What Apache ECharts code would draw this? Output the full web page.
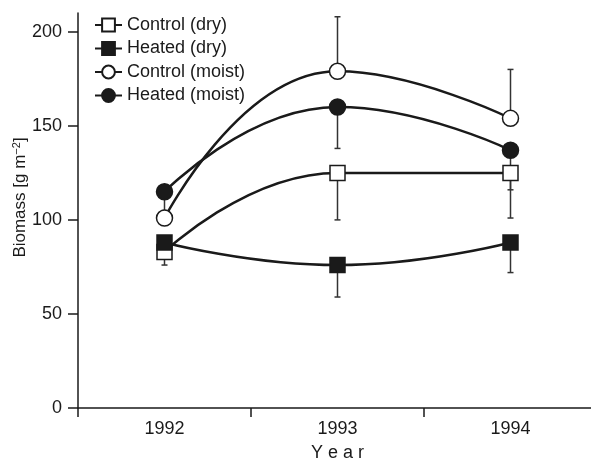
<!DOCTYPE html>
<html><head><meta charset="utf-8">
<script src="https://cdn.jsdelivr.net/npm/echarts@6/dist/echarts.min.js"></script>
<style>html,body{margin:0;padding:0;background:#fff}#c{width:591px;height:463px}</style>
</head><body><div id="c"></div>
<script>
const years = ['1992', '1993', '1994'];
const yTicks = [0, 50, 100, 150, 200];

const controlDry = [83, 125, 125];
const controlDryLow = [76, 100, 101];
const controlDryHigh = [null, null, null];

const heatedDry = [88, 76, 88];
const heatedDryLow = [null, 59, 72];
const heatedDryHigh = [null, null, null];

const controlMoist = [101, 179, 154];
const controlMoistLow = [null, null, null];
const controlMoistHigh = [null, 208, 180];

const heatedMoist = [115, 160, 137];
const heatedMoistLow = [105, 138, 116];
const heatedMoistHigh = [null, null, null];

const FONT = 'Liberation Sans';
const INK = '#1a1a1a';

function errData(vals, lows, highs) {
  const out = [];
  vals.forEach((v, i) => {
    if (lows[i] != null) out.push([i, v, lows[i]]);
    if (highs[i] != null) out.push([i, v, highs[i]]);
  });
  return out;
}
const errAll = [].concat(
  errData(controlDry, controlDryLow, controlDryHigh),
  errData(heatedDry, heatedDryLow, heatedDryHigh),
  errData(controlMoist, controlMoistLow, controlMoistHigh),
  errData(heatedMoist, heatedMoistLow, heatedMoistHigh)
);

function lineSeries(name, data, symbol, filled) {
  return {
    name, type: 'line', data, smooth: 0.5, symbol, symbolSize: symbol === 'rect' ? 15 : 16,
    lineStyle: { color: INK, width: 2.5 },
    itemStyle: { color: filled ? INK : '#fff', borderColor: INK, borderWidth: 1.5 },
    z: 3
  };
}

const chart = echarts.init(document.getElementById('c'));
chart.setOption({
  animation: false,
  backgroundColor: '#fff',
  textStyle: { fontFamily: FONT },
  grid: { left: 78, right: -6, top: 13, bottom: 55, containLabel: false, outerBoundsMode: 'none' },
  legend: {
    orient: 'vertical', left: 89, top: 11, itemGap: 5.5, itemWidth: 27, itemHeight: 16,
    textStyle: { fontFamily: FONT, fontSize: 18, color: INK },
    data: ['Control (dry)', 'Heated (dry)', 'Control (moist)', 'Heated (moist)']
  },
  xAxis: {
    type: 'category', data: years, boundaryGap: true,
    name: 'Y e a r', nameLocation: 'middle', nameGap: 36, nameMoveOverlap: false,
    nameTextStyle: { fontFamily: FONT, fontSize: 18, color: INK },
    axisLine: { lineStyle: { color: INK, width: 1.5 } },
    axisTick: { show: true, interval: 0, alignWithLabel: false, length: 9, lineStyle: { color: INK, width: 1.5 } },
    axisLabel: { fontFamily: FONT, fontSize: 18, color: INK, margin: 12 }
  },
  yAxis: {
    type: 'value', min: 0, max: 210, interval: 50,
    name: 'Biomass [g m{sup|−2}]', nameLocation: 'middle', nameGap: 48, nameRotate: 90, nameMoveOverlap: false,
    nameTextStyle: { fontFamily: FONT, fontSize: 17, color: INK, padding: [0, 0, 0, 26],
      rich: { sup: { fontSize: 11, verticalAlign: 'top', padding: [0, 0, 8, 0], fontFamily: FONT, color: INK } } },
    splitLine: { show: false },
    axisLine: { show: true, lineStyle: { color: INK, width: 1.5 } },
    axisTick: { show: true, length: 10, lineStyle: { color: INK, width: 1.5 }, customValues: yTicks },
    axisLabel: { fontFamily: FONT, fontSize: 18, color: INK, margin: 16, customValues: yTicks }
  },
  series: [
    {
      type: 'custom', name: 'err', data: errAll, z: 1, silent: true,
      renderItem: function (params, api) {
        const p0 = api.coord([api.value(0), api.value(1)]);
        const p1 = api.coord([api.value(0), api.value(2)]);
        const st = { stroke: '#333', lineWidth: 1.5 };
        return { type: 'group', children: [
          { type: 'line', shape: { x1: p0[0], y1: p0[1], x2: p1[0], y2: p1[1] }, style: st },
          { type: 'line', shape: { x1: p1[0] - 3, y1: p1[1], x2: p1[0] + 3, y2: p1[1] }, style: st }
        ] };
      }
    },
    lineSeries('Control (dry)', controlDry, 'rect', false),
    lineSeries('Heated (dry)', heatedDry, 'rect', true),
    lineSeries('Control (moist)', controlMoist, 'circle', false),
    lineSeries('Heated (moist)', heatedMoist, 'circle', true)
  ]
});
</script></body></html>
